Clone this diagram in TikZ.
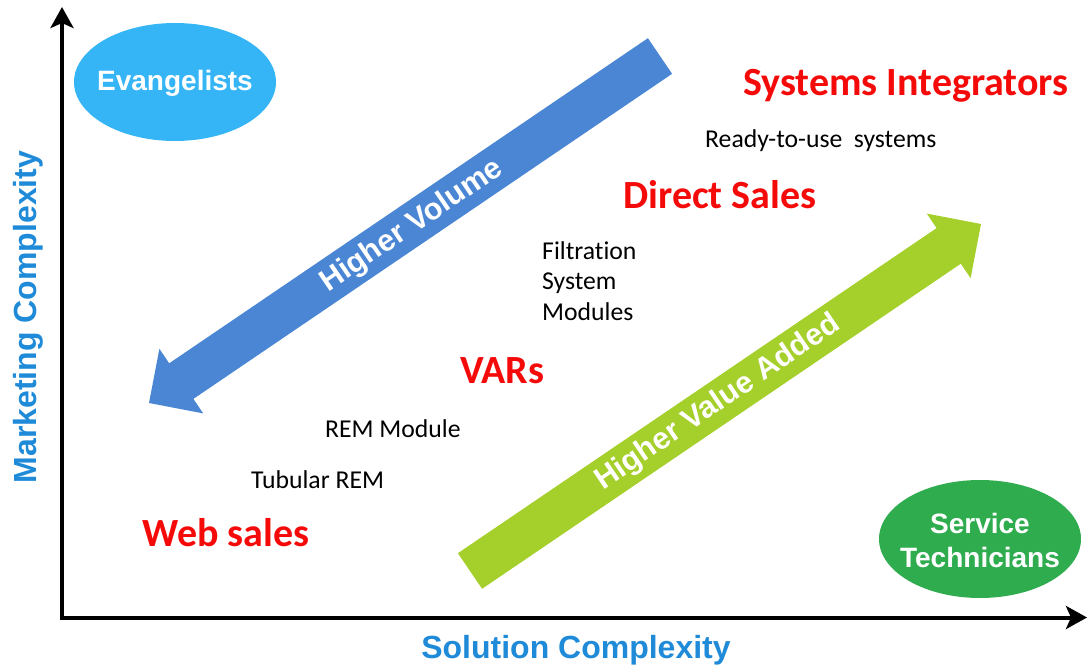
\documentclass[tikz,border=0pt]{standalone}
\usepackage{fontspec}
\usetikzlibrary{shapes.geometric,arrows.meta}
\newfontfamily\carlito[Ligatures=NoCommon]{Carlito}
\newfontfamily\arialf{Liberation Sans}
\definecolor{evblue}{HTML}{35B5F6}
\definecolor{arrblue}{HTML}{4A86D4}
\definecolor{arrgreen}{HTML}{A5CF2B}
\definecolor{svgreen}{HTML}{2EAC4E}
\definecolor{chanred}{HTML}{F50A0A}
\definecolor{axblue}{HTML}{1F8BD8}
\tikzset{
  axisline/.style={line width=4pt, black, line join=miter, {Stealth[length=21pt,width=23pt,inset=5pt]}-{Stealth[length=21pt,width=23pt,inset=5pt]}},
  axislabel/.style={inner sep=0pt, text=axblue, font=\arialf\bfseries\fontsize{32}{38}\selectfont},
  channel/.style={inner sep=0pt, anchor=base west, text=chanred, font=\carlito\bfseries\fontsize{40}{48}\selectfont},
  product/.style={inner sep=0pt, anchor=base west, text=black, font=\carlito\fontsize{25.7}{30.5}\selectfont},
  blob/.style={ellipse, inner sep=0pt, minimum width=202pt, minimum height=118pt},
  blobtext/.style={inner sep=0pt, text=white, align=center, font=\arialf\bfseries\fontsize{28}{35}\selectfont},
  arrowtext/.style={inner sep=0pt, rotate=34.2, text=white, font=\arialf\bfseries\fontsize{30.5}{36}\selectfont},
}
\begin{document}
\begin{tikzpicture}[x=1pt,y=-1pt]
\useasboundingbox (0,0) rectangle (1088,666);
% axes
\coordinate (ytop) at (62,7);
\coordinate (xend) at (1087,617.5);
\draw[axisline] (ytop) |- (xend);
\node[axislabel, anchor=base] (xlab) at (576,658) {Solution Complexity};
\node[axislabel, anchor=base, rotate=90] (ylab) at (36,317) {Marketing Complexity};
% big arrows
\fill[arrblue] (647.9,38.2) -- (672.1,73.8) -- (193.4,398.9) -- (203.2,413.4) -- (149,403) -- (159.4,348.8) -- (169.2,363.3) -- cycle;
\node[arrowtext] (hv) at (412,226) {Higher Volume};
\fill[arrgreen] (457.9,553.2) -- (936.6,228.1) -- (926.8,213.6) -- (981,224) -- (970.6,278.2) -- (960.8,263.7) -- (482.1,588.8) -- cycle;
\node[arrowtext] (hva) at (718,403) {Higher Value Added};
% ellipses
\node[blob, fill=evblue] (evang) at (175,82) {};
\node[blobtext, anchor=base] (evangt) at (175,91) {Evangelists};
\node[blob, fill=svgreen] (serv) at (980,539) {};
\node[blobtext] (servt) at (980,540) {Service\\[-1pt]Technicians};
% channels
\node[channel] (si) at (743,96) {Systems Integrators};
\node[channel] (ds) at (623,208) {Direct Sales};
\node[channel] (vars) at (460,383) {VARs};
\node[channel] (web) at (142,546) {Web sales};
% products
\node[product] (rtu) at (705,148) {Ready-to-use\ \ systems};
\node[product, anchor=north west, align=left] (fsm) at (542,241) {Filtration\\System\\Modules};
\node[product] (rem) at (325,437) {REM Module};
\node[product] (trem) at (251,488) {Tubular REM};
\end{tikzpicture}
\end{document}
